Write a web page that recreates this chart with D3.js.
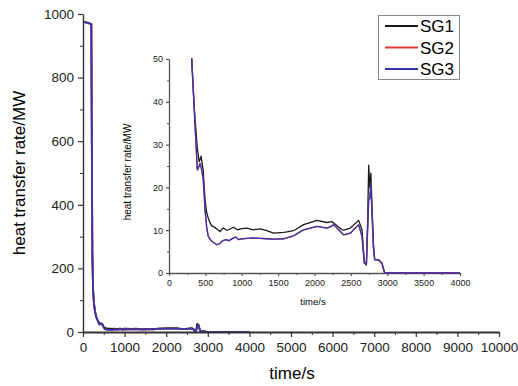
<!DOCTYPE html>
<html>
<head>
<meta charset="utf-8">
<script src="https://cdn.jsdelivr.net/npm/d3@7"></script>
<style>
  body { margin: 0; background: #fff; }
  svg { font-family: "Liberation Sans", Arial, sans-serif; }
</style>
</head>
<body>
<div id="graph"></div>
<script>
// shared time base (s)
var times = [0, 100, 200, 212, 225, 240, 260, 285, 312, 350, 390, 415, 427, 441, 470, 496, 519, 541, 565, 588,
  633, 657, 702, 726, 748, 795, 817, 886, 920, 954, 977, 1070, 1161, 1253, 1345, 1436, 1574, 1620, 1712, 1735,
  1850, 2034, 2172, 2240, 2263, 2378, 2401, 2492, 2607, 2653, 2685, 2713, 2730, 2745, 2760, 2775, 2790, 2810,
  2827, 2882, 2928, 2951, 2965, 4000];

var sg1 = [975, 973, 968, 600, 250, 140, 95, 68, 50, 38, 29, 26, 26.5, 27.3, 24, 17, 14, 12.8, 11.7, 11,
  10.6, 10.3, 9.7, 10.2, 10.5, 10, 10.1, 10.7, 10.3, 10.1, 10.3, 10.5, 10.1, 10.3, 9.9, 9.3, 9.5, 9.6, 9.9, 10.1,
  11.3, 12.3, 11.8, 12.0, 11.7, 10.1, 10.0, 10.5, 12.3, 10.1, 2.7, 1.9, 12, 25.2, 20, 23.3, 16, 7,
  3.1, 3.1, 2.3, 0.8, 0, 0];

var sg2 = [975, 973, 968, 600, 250, 140, 95, 68, 50, 37, 24.1, 25, 25.6, 24.8, 22, 14.7, 10.5, 8.5, 7.9, 7.4,
  6.9, 6.6, 6.9, 7.4, 7.6, 7.8, 7.5, 8.2, 8.4, 7.8, 7.9, 8.1, 8.2, 8.1, 8.0, 7.9, 8.0, 8.2, 8.7, 8.9,
  10.1, 10.9, 10.5, 11.0, 11.3, 9.3, 8.9, 9.3, 11.3, 8.5, 2.3, 1.9, 10, 17, 17.5, 21, 14, 6,
  3.2, 3.0, 2.2, 0.8, 0, 0];

var sg3 = [975, 973, 968, 600, 250, 140, 95, 68, 50, 37, 24.1, 25, 25.6, 24.8, 22, 14.7, 10.5, 8.5, 7.9, 7.4,
  6.9, 6.6, 6.9, 7.4, 7.6, 7.8, 7.5, 8.2, 8.4, 7.8, 7.9, 8.1, 8.2, 8.1, 8.0, 7.9, 8.0, 8.2, 8.7, 8.9,
  10.1, 10.9, 10.5, 11.0, 11.3, 9.3, 8.9, 9.3, 11.3, 8.5, 2.3, 1.9, 10, 17, 17.5, 21, 14, 6,
  3.2, 3.0, 2.2, 0.8, 0, 0];

var seriesNames = ['SG1', 'SG2', 'SG3'];
var seriesColors = ['#1a1a1a', '#e23a3a', '#3535b0'];

var mainXTicks = d3.range(0, 10001, 1000);
var mainYTicks = d3.range(0, 1001, 200);
var insetXTicks = d3.range(0, 4001, 500);
var insetYTicks = d3.range(0, 51, 10);

var series = [sg1, sg2, sg3].map(function(vals, i) {
  return {name: seriesNames[i], color: seriesColors[i],
    values: times.map(function(t, j) { return {t: t, v: vals[j]}; })};
});

var svg = d3.select('#graph').append('svg')
    .attr('width', 518)
    .attr('height', 386);

var fmt = d3.format('d');

function styleAxis(g, color, w) {
  g.select('.domain').attr('stroke', color).attr('stroke-width', w);
  g.selectAll('.tick line').attr('stroke', color).attr('stroke-width', 1.2);
  g.selectAll('.tick text').attr('fill', '#222');
}

// ---- main plot ----
var x = d3.scaleLinear().domain([0, 10000]).range([83, 499]);
var y = d3.scaleLinear().domain([0, 1000]).range([332, 14]);

var line = d3.line()
    .x(function(d) { return x(d.t); })
    .y(function(d) { return y(d.v); });

series.forEach(function(s) {
  svg.append('path')
      .datum(s.values)
      .attr('fill', 'none')
      .attr('stroke', s.color)
      .attr('stroke-width', 1.8)
      .attr('stroke-linejoin', 'round')
      .attr('d', line);
});

svg.append('g')
    .attr('transform', 'translate(0,332)')
    .call(d3.axisBottom(x).tickValues(d3.range(500, 10000, 1000)).tickSize(3).tickFormat(''))
    .call(function(g) { g.select('.domain').remove(); g.selectAll('line').attr('stroke', '#333'); });
svg.append('g')
    .attr('transform', 'translate(83,0)')
    .call(d3.axisLeft(y).tickValues(d3.range(100, 1000, 200)).tickSize(3).tickFormat(''))
    .call(function(g) { g.select('.domain').remove(); g.selectAll('line').attr('stroke', '#333'); });

var xAxis = svg.append('g')
    .attr('transform', 'translate(0,332)')
    .call(d3.axisBottom(x).tickValues(mainXTicks).tickFormat(fmt).tickSize(5).tickSizeOuter(0).tickPadding(5))
    .style('font-size', '13.5px');
styleAxis(xAxis, '#333', 2);

var yAxis = svg.append('g')
    .attr('transform', 'translate(83,0)')
    .call(d3.axisLeft(y).tickValues(mainYTicks).tickFormat(fmt).tickSize(5).tickSizeOuter(0).tickPadding(4))
    .style('font-size', '13.5px');
styleAxis(yAxis, '#333', 1.4);

svg.append('text')
    .attr('x', 292).attr('y', 379)
    .attr('text-anchor', 'middle')
    .style('font-size', '17px')
    .text('time/s');

svg.append('text')
    .attr('transform', 'translate(25,173) rotate(-90)')
    .attr('text-anchor', 'middle')
    .style('font-size', '17px')
    .text('heat transfer rate/MW');

// ---- inset ----
var ix = d3.scaleLinear().domain([0, 4000]).range([169, 460]);
var iy = d3.scaleLinear().domain([0, 50]).range([273, 59]);

var iline = d3.line()
    .x(function(d) { return ix(d.t); })
    .y(function(d) { return iy(d.v); });

svg.append('clipPath').attr('id', 'insetclip')
  .append('rect')
    .attr('x', 169).attr('y', 58)
    .attr('width', 292).attr('height', 217);

svg.append('g')
    .attr('transform', 'translate(0,273)')
    .call(d3.axisBottom(ix).tickValues(d3.range(250, 4000, 500)).tickSize(2).tickFormat(''))
    .call(function(g) { g.select('.domain').remove(); g.selectAll('line').attr('stroke', '#555'); });
svg.append('g')
    .attr('transform', 'translate(169,0)')
    .call(d3.axisLeft(iy).tickValues(d3.range(5, 50, 10)).tickSize(2).tickFormat(''))
    .call(function(g) { g.select('.domain').remove(); g.selectAll('line').attr('stroke', '#555'); });

var ixAxis = svg.append('g')
    .attr('transform', 'translate(0,273)')
    .call(d3.axisBottom(ix).tickValues(insetXTicks).tickFormat(fmt).tickSize(3).tickSizeOuter(0).tickPadding(4))
    .style('font-size', '9px');
styleAxis(ixAxis, '#555', 1.3);

var iyAxis = svg.append('g')
    .attr('transform', 'translate(169,0)')
    .call(d3.axisLeft(iy).tickValues(insetYTicks).tickFormat(fmt).tickSize(3).tickSizeOuter(0).tickPadding(3))
    .style('font-size', '9px');
styleAxis(iyAxis, '#555', 1.3);

series.forEach(function(s) {
  svg.append('path')
      .datum(s.values)
      .attr('clip-path', 'url(#insetclip)')
      .attr('fill', 'none')
      .attr('stroke', s.color)
      .attr('stroke-width', 1.3)
      .attr('stroke-linejoin', 'round')
      .attr('d', iline);
});

svg.append('text')
    .attr('x', 313).attr('y', 305)
    .attr('text-anchor', 'middle')
    .style('font-size', '9.5px')
    .text('time/s');

svg.append('text')
    .attr('transform', 'translate(131,172) rotate(-90)')
    .attr('text-anchor', 'middle')
    .style('font-size', '10px')
    .text('heat transfer rate/MW');

// ---- legend ----
var legend = svg.append('g');
legend.append('rect')
    .attr('x', 378.5).attr('y', 15.5)
    .attr('width', 81).attr('height', 64)
    .attr('fill', '#fff')
    .attr('stroke', '#888')
    .attr('stroke-width', 1);

var item = legend.selectAll('.item')
    .data(series)
  .enter().append('g')
    .attr('class', 'item')
    .attr('transform', function(d, i) { return 'translate(0,' + (26 + i * 21.5) + ')'; });

item.append('line')
    .attr('x1', 385).attr('x2', 418)
    .attr('stroke', function(d) { return d.color; })
    .attr('stroke-width', 1.8);

item.append('text')
    .attr('x', 420).attr('dy', '0.36em')
    .style('font-size', '17px')
    .text(function(d) { return d.name; });
</script>
</body>
</html>
